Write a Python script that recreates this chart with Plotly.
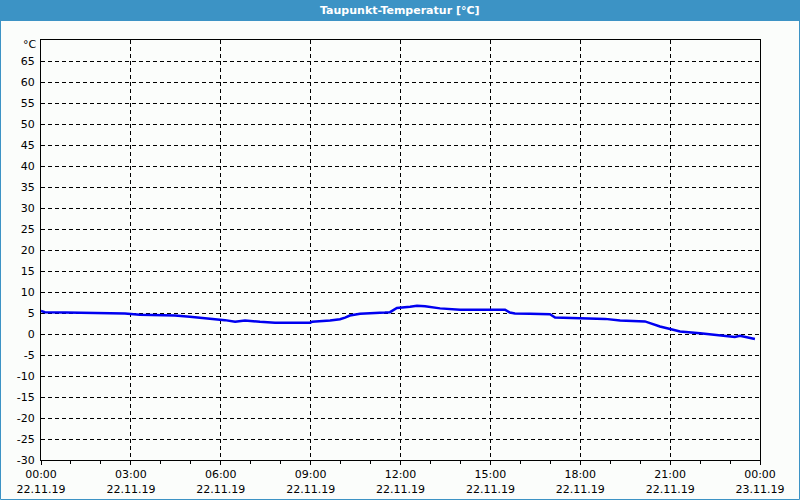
import plotly.graph_objects as go
import pandas as pd

# Data (hours after 22.11.19 00:00, dew point °C)
hours = [0.0, 0.13, 0.83, 2.80, 3.30, 4.47, 4.97, 5.64, 6.14, 6.48, 6.81, 7.31, 7.81,
         8.98, 9.05, 9.65, 9.98, 10.15, 10.31, 10.65, 11.15, 11.48, 11.65, 11.75, 11.88,
         12.32, 12.55, 12.82, 13.32, 13.99, 15.49, 15.65, 15.82, 16.32, 16.99, 17.16,
         18.83, 19.33, 20.16, 20.33, 20.66, 21.0, 21.33, 22.0, 22.66, 23.16, 23.33, 23.67, 23.83]
dewpoint = [5.5, 5.2, 5.1, 4.9, 4.6, 4.4, 4.1, 3.7, 3.3, 2.9, 3.2, 2.9, 2.7,
            2.7, 2.9, 3.2, 3.5, 3.9, 4.4, 4.8, 4.9, 5.1, 5.2, 5.7, 6.2,
            6.5, 6.7, 6.6, 6.1, 5.8, 5.8, 5.1, 4.9, 4.8, 4.7, 3.9,
            3.6, 3.2, 3.0, 2.6, 1.8, 1.2, 0.6, 0.2, -0.4, -0.7, -0.4, -0.9, -1.2]

x_tick_hours = [0, 3, 6, 9, 12, 15, 18, 21, 24]
x_tick_text = ["00:00<br>22.11.19", "03:00<br>22.11.19", "06:00<br>22.11.19",
               "09:00<br>22.11.19", "12:00<br>22.11.19", "15:00<br>22.11.19",
               "18:00<br>22.11.19", "21:00<br>22.11.19", "00:00<br>23.11.19"]
y_ticks = list(range(-30, 70, 5))

start = pd.Timestamp("2019-11-22 00:00")
xs = [start + pd.Timedelta(hours=h) for h in hours]
x_tick_vals = [start + pd.Timedelta(hours=h) for h in x_tick_hours]

BLUE = "#3c93c5"
font = "DejaVu Sans"
DASH = "4px,3px"

fig = go.Figure()
fig.add_trace(go.Scatter(x=xs, y=dewpoint, mode="lines",
                         line=dict(color="#0000f0", width=2.5),
                         hoverinfo="skip", showlegend=False))

L, R, T, B = 41, 40, 40, 40
W, H = 800, 500
pw, ph = W - L - R, H - T - B

fig.update_layout(
    width=W, height=H,
    margin=dict(l=L, r=R, t=T, b=B, pad=0, autoexpand=False),
    paper_bgcolor="#fbfdfb", plot_bgcolor="#fbfdfb",
    font=dict(family=font, size=11, color="#000000"),
    showlegend=False,
)
fig.update_xaxes(
    type="date", automargin=False,
    range=[x_tick_vals[0], x_tick_vals[-1]],
    tickvals=x_tick_vals, ticktext=x_tick_text,
    showgrid=True, gridcolor="#000000", griddash=DASH, gridwidth=1,
    showline=True, linecolor="#000000", linewidth=1, mirror=True,
    ticks="outside", ticklen=4, tickcolor="#000000",
    minor=dict(ticks="outside", ticklen=3, tickcolor="#000000",
               dtick=3600000, showgrid=False),
    zeroline=False, tickfont=dict(size=11),
)
fig.update_yaxes(
    automargin=False,
    range=[-30, 70],
    tickvals=y_ticks, ticktext=[str(v) for v in y_ticks],
    showgrid=True, gridcolor="#000000", griddash=DASH, gridwidth=1,
    showline=True, linecolor="#000000", linewidth=1, mirror=True,
    ticks="", ticklabelstandoff=3,
    zeroline=False, tickfont=dict(size=11),
)

def px_x(p):
    return (p - L) / pw

def px_y(p):
    return 1 - (p - T) / ph

# Title bar
fig.add_shape(type="rect", xref="paper", yref="paper",
              x0=px_x(0), x1=px_x(W), y0=px_y(21), y1=px_y(0),
              fillcolor=BLUE, line=dict(width=0), layer="above")
# Outer border
fig.add_shape(type="rect", xref="paper", yref="paper",
              x0=px_x(0.5), x1=px_x(W - 0.5), y0=px_y(H - 0.5), y1=px_y(0.5),
              line=dict(color=BLUE, width=1), layer="above")

fig.add_annotation(xref="paper", yref="paper", x=0.5 * (px_x(0) + px_x(W)), y=px_y(10.5),
                   text="<b>Taupunkt-Temperatur [°C]</b>", showarrow=False,
                   font=dict(family=font, size=11, color="white"),
                   xanchor="center", yanchor="middle")
fig.add_annotation(xref="paper", yref="paper", x=0, y=px_y(45),
                   text="°C", showarrow=False, xanchor="right", yanchor="middle",
                   xshift=-2, font=dict(family=font, size=11, color="black"))

fig.write_html("out.html", config={"displayModeBar": False, "staticPlot": True},
               post_script="document.body.style.margin='0';document.body.style.overflow='hidden';")
